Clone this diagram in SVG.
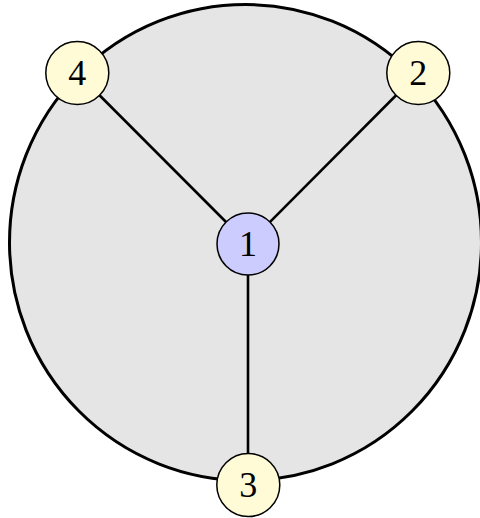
<svg xmlns="http://www.w3.org/2000/svg" width="480" height="518" viewBox="0 0 480 518">
<style>
.node circle{stroke:#000;stroke-width:1.5}
.leaf circle{fill:#fffbd6}
.root circle{fill:#ccccff}
.node text{font-family:"Liberation Serif","DejaVu Serif",serif;font-size:36px;text-anchor:middle;fill:#000}
#edges line{stroke:#000;stroke-width:2.6}
</style>
<rect width="480" height="518" fill="#fff"/>
<ellipse id="region" cx="245.5" cy="242.5" rx="236" ry="238" fill="#e5e5e5" stroke="#000" stroke-width="3"/>
<g id="edges">
<line x1="248" y1="244" x2="77.3" y2="73"/>
<line x1="248" y1="244" x2="418.3" y2="73"/>
<line x1="248" y1="244" x2="248" y2="485"/>
</g>
<g id="node1" class="node root"><circle cx="248" cy="244" r="31"/><text x="248" y="256">1</text></g>
<g id="node2" class="node leaf"><circle cx="418.3" cy="73" r="31.5"/><text x="418.3" y="85">2</text></g>
<g id="node3" class="node leaf"><circle cx="248.3" cy="485" r="31.5"/><text x="248.3" y="497">3</text></g>
<g id="node4" class="node leaf"><circle cx="77.3" cy="73" r="31.5"/><text x="77.3" y="85">4</text></g>
</svg>
